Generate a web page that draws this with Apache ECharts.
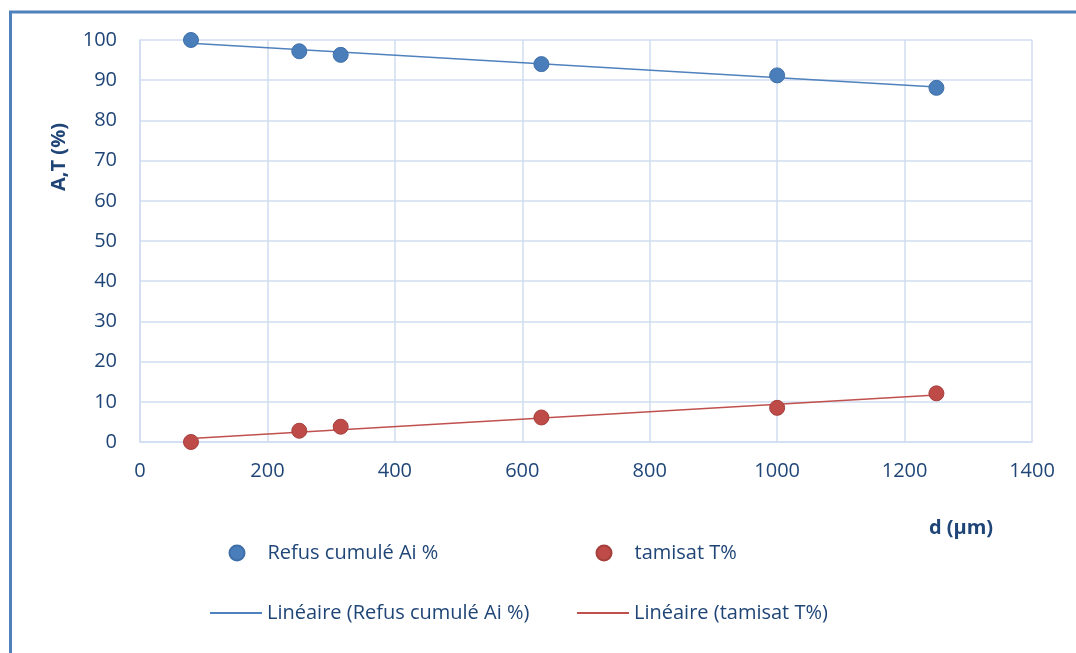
<!DOCTYPE html>
<html>
<head>
<meta charset="utf-8">
<script src="https://cdn.jsdelivr.net/npm/echarts@6/dist/echarts.min.js"></script>
<style>
html, body { margin: 0; padding: 0; background: #fff; }
#chart { width: 1076px; height: 653px; }
</style>
</head>
<body>
<div id="chart"></div>
<script>
// tamis (µm) et résultats
var sieves = [80, 250, 315, 630, 1000, 1250];
var refusCumule = [100, 97.2, 96.3, 94.0, 91.2, 88.1];
var tamisat = [0, 2.8, 3.8, 6.1, 8.5, 12.1];
var xTicks = [0, 200, 400, 600, 800, 1000, 1200, 1400];
var yTicks = [0, 10, 20, 30, 40, 50, 60, 70, 80, 90, 100];

var nameA = 'Refus cumulé Ai %';
var nameT = 'tamisat T%';
var nameLinA = 'Linéaire (Refus cumulé Ai %)';
var nameLinT = 'Linéaire (tamisat T%)';

var textColor = '#1f4577';
var gridColor = '#d0ddf1';
var font = '"Open Sans", "Noto Sans", sans-serif';

function pairs(xs, ys) {
    return xs.map(function (x, i) { return [x, ys[i]]; });
}

// droite des moindres carrés (courbe de tendance linéaire)
function trend(xs, ys) {
    var n = xs.length, sx = 0, sy = 0, sxx = 0, sxy = 0;
    for (var i = 0; i < n; i++) {
        sx += xs[i]; sy += ys[i];
        sxx += xs[i] * xs[i]; sxy += xs[i] * ys[i];
    }
    var b = (n * sxy - sx * sy) / (n * sxx - sx * sx);
    var a = (sy - b * sx) / n;
    var x0 = Math.min.apply(null, xs), x1 = Math.max.apply(null, xs);
    return [[x0, a + b * x0], [x1, a + b * x1]];
}

var myChart = echarts.init(document.getElementById('chart'));

function legendItem(name, icon, left, top, w, h, gap) {
    return {
        data: [{ name: name, icon: icon }],
        left: left, top: top, padding: 0,
        itemWidth: w, itemHeight: h,
        selectedMode: false,
        textStyle: {
            color: textColor, fontSize: 20, fontFamily: font,
            padding: [0, 0, 0, gap]
        }
    };
}

var option = {
    animation: false,
    backgroundColor: '#fff',
    grid: { left: 140, right: 44, top: 40, bottom: 211 },
    xAxis: {
        type: 'value', min: xTicks[0], max: xTicks[xTicks.length - 1], interval: 200,
        axisLine: { show: true, lineStyle: { color: gridColor, width: 1.5 } },
        axisTick: { show: false },
        axisLabel: {
            color: textColor, fontSize: 20, fontFamily: font, margin: 19,
            formatter: function (v) { return String(v); }
        },
        splitLine: { show: true, lineStyle: { color: gridColor, width: 1.5 } }
    },
    yAxis: {
        type: 'value', min: yTicks[0], max: yTicks[yTicks.length - 1], interval: 10,
        axisLine: { show: true, lineStyle: { color: gridColor, width: 1.5 } },
        axisTick: { show: false },
        axisLabel: { color: textColor, fontSize: 20, fontFamily: font, margin: 23 },
        splitLine: { show: true, lineStyle: { color: gridColor, width: 1.5 } }
    },
    legend: [
        legendItem(nameA, 'circle', 228.5, 543, 15, 15, 18),
        legendItem(nameT, 'circle', 595.5, 543, 15, 15, 18),
        legendItem(nameLinA, 'rect', 210, 603, 52, 2, 0),
        legendItem(nameLinT, 'rect', 577, 603, 52, 2, 0)
    ],
    graphic: [
        {
            type: 'rect', silent: true, z: -10,
            shape: { x: 10.5, y: 12, width: 2000, height: 2000 },
            style: { fill: 'none', stroke: '#4f81bd', lineWidth: 3 }
        },
        {
            type: 'text', x: 59, y: 157, rotation: Math.PI / 2,
            style: {
                text: 'A,T (%)', fill: textColor, fontSize: 20, fontWeight: 'bold',
                fontFamily: font, align: 'center', verticalAlign: 'middle'
            }
        },
        {
            type: 'text', x: 961, y: 528,
            style: {
                text: 'd (µm)', fill: textColor, fontSize: 20, fontWeight: 'bold',
                fontFamily: font, align: 'center', verticalAlign: 'middle'
            }
        }
    ],
    series: [
        {
            name: nameLinA, type: 'line', data: trend(sieves, refusCumule),
            symbol: 'none', z: 2,
            lineStyle: { color: '#4f81bd', width: 1.5 },
            itemStyle: { color: '#4f81bd' }
        },
        {
            name: nameLinT, type: 'line', data: trend(sieves, tamisat),
            symbol: 'none', z: 2,
            lineStyle: { color: '#c0504d', width: 1.5 },
            itemStyle: { color: '#c0504d' }
        },
        {
            name: nameA, type: 'scatter', data: pairs(sieves, refusCumule),
            symbol: 'circle', symbolSize: 15, z: 3,
            itemStyle: { color: '#4a7ebb', borderColor: '#3f6fa9', borderWidth: 1, opacity: 1 }
        },
        {
            name: nameT, type: 'scatter', data: pairs(sieves, tamisat),
            symbol: 'circle', symbolSize: 15, z: 3,
            itemStyle: { color: '#be4b48', borderColor: '#a53f3c', borderWidth: 1, opacity: 1 }
        }
    ]
};

myChart.setOption(option);

window.addEventListener('resize', function () {
    myChart.resize();
});
</script>
</body>
</html>
